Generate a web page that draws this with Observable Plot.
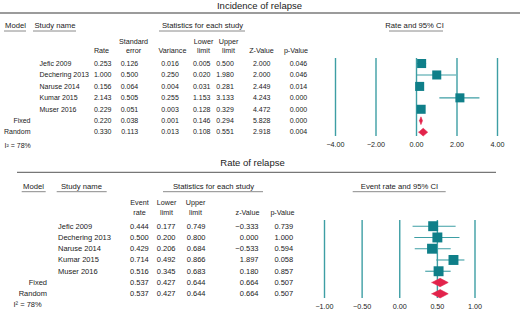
<!DOCTYPE html>
<html><head><meta charset="utf-8">
<script src="https://cdn.jsdelivr.net/npm/d3@7"></script>
<script src="https://cdn.jsdelivr.net/npm/@observablehq/plot@0.6"></script>
<style>
body{margin:0;background:#fff;}
#chart svg{display:block;}
</style></head><body><div id="chart"></div>
<script>
// ---------- data ----------
const studies = ["Jefic 2009", "Dechering 2013", "Naruse 2014", "Kumar 2015", "Muser 2016"];
const models = ["Fixed", "Random"];
const i2Text = "I\u00B2 = 78%";

// Incidence of relapse
const incRate     = [0.253, 1.000, 0.156, 2.143, 0.229, 0.220, 0.330];
const incSE       = [0.126, 0.500, 0.064, 0.505, 0.051, 0.038, 0.113];
const incVariance = [0.016, 0.250, 0.004, 0.255, 0.003, 0.001, 0.013];
const incLower    = [0.005, 0.020, 0.031, 1.153, 0.128, 0.146, 0.108];
const incUpper    = [0.500, 1.980, 0.281, 3.133, 0.329, 0.294, 0.551];
const incZ        = [2.000, 2.000, 2.449, 4.243, 4.472, 5.828, 2.918];
const incP        = [0.046, 0.046, 0.014, 0.000, 0.000, 0.000, 0.004];
const incTicks    = [-4, -2, 0, 2, 4];

// Rate of relapse
const relRate  = [0.444, 0.500, 0.429, 0.714, 0.516, 0.537, 0.537];
const relLower = [0.177, 0.200, 0.206, 0.492, 0.345, 0.427, 0.427];
const relUpper = [0.749, 0.800, 0.684, 0.866, 0.683, 0.644, 0.644];
const relZ     = [-0.333, 0.000, -0.533, 1.897, 0.180, 0.664, 0.664];
const relP     = [0.739, 1.000, 0.594, 0.058, 0.857, 0.507, 0.507];
const relTicks = [-1, -0.5, 0, 0.5, 1];

// ---------- styles ----------
const FONT = "'Liberation Sans', Arial, Helvetica, sans-serif";
const TEXT = "#222";
const SQUARE = "#0f7f89";
const LINE = "#3d9ea4";
const RED = "#e2234b";
const f3 = d3.format(".3f"), f2 = d3.format(".2f");

function panel(cfg) {
  const labels = [...studies, ...models];
  const rows = labels.map((name, i) => ({
    i, name, model: i >= studies.length,
    est: cfg.est[i], lo: cfg.lo[i], hi: cfg.hi[i],
    vals: cfg.cols.map(c => c.values[i])
  }));
  const studyRows = rows.filter(d => !d.model);
  const modelRows = rows.filter(d => d.model);
  const diamonds = modelRows.flatMap(d => [
    {name: d.name, x: d.lo, y: d.i},
    {name: d.name, x: d.est, y: d.i - cfg.dh},
    {name: d.name, x: d.hi, y: d.i},
    {name: d.name, x: d.est, y: d.i + cfg.dh},
    {name: d.name, x: d.lo, y: d.i}
  ]);
  const {ml, mt, mb, height} = cfg;
  const fb = height - mb;
  const fs = cfg.fs;
  const marks = [];
  const T = (opts) => ({fill: TEXT, lineAnchor: "middle", ...opts});
  // decorative rules (title rule and header underlines)
  marks.push(() => {
    const g = d3.create("svg:g");
    g.append("line").attr("x1", cfg.rule.x1).attr("x2", cfg.rule.x2)
      .attr("y1", cfg.rule.y).attr("y2", cfg.rule.y)
      .attr("stroke", cfg.rule.stroke).attr("stroke-width", cfg.rule.w);
    for (const h of cfg.groups) {
      g.append("line").attr("x1", h.u[0]).attr("x2", h.u[1])
        .attr("y1", cfg.underlineY).attr("y2", cfg.underlineY)
        .attr("stroke", "#8a8a8a").attr("stroke-width", 1);
    }
    return g.node();
  });
  // title
  marks.push(Plot.text([cfg.title.text], T({text: d => d, frameAnchor: "top-left", textAnchor: "middle",
    dx: cfg.title.x - ml, dy: cfg.title.y - mt, fontSize: 9.5})));
  // group headers
  for (const h of cfg.groups) {
    marks.push(Plot.text([h.text], T({text: d => d, frameAnchor: "top-left", textAnchor: "middle",
      dx: h.cx - ml, dy: cfg.groupY - mt, fontSize: 7.7})));
  }
  // column headers
  cfg.cols.forEach(c => {
    const lines = c.header;
    lines.forEach((t, k) => {
      const y = lines.length === 2 ? cfg.colHeadY[k] : cfg.colHeadY[1];
      marks.push(Plot.text([t], T({text: d => d, frameAnchor: "top-left", textAnchor: "middle",
        dx: c.cx - ml, dy: y - mt, fontSize: 7.2})));
    });
  });
  // vertical reference lines
  marks.push(Plot.ruleX(cfg.ticks, {x: d => d, stroke: LINE, strokeWidth: 1.4}));
  // CI lines
  marks.push(Plot.ruleY(studyRows, {y: "i", x1: "lo", x2: "hi", stroke: LINE, strokeWidth: 1.1}));
  // squares
  marks.push(Plot.dot(studyRows, {x: "est", y: "i", symbol: "square", r: cfg.r, fill: SQUARE, stroke: null}));
  // diamonds
  marks.push(Plot.line(diamonds, {x: "x", y: "y", z: "name", fill: RED, stroke: RED, strokeWidth: 0.6, curve: "linear"}));
  // study names
  marks.push(Plot.text(studyRows, T({y: "i", text: "name", frameAnchor: "left",
    dx: cfg.nameX - ml, textAnchor: "start", fontSize: fs})));
  // model names
  marks.push(Plot.text(modelRows, T({y: "i", text: "name", frameAnchor: "left",
    dx: cfg.modelRight - ml, textAnchor: "end", fontSize: fs})));
  // numeric columns
  cfg.cols.forEach((c, k) => {
    marks.push(Plot.text(rows, T({y: "i", text: d => f3(d.vals[k]), frameAnchor: "left",
      dx: c.right - ml, textAnchor: "end", fontSize: fs})));
  });
  // I^2
  marks.push(Plot.text([i2Text], T({text: d => d, frameAnchor: "bottom-left",
    dx: cfg.i2.x - ml, dy: cfg.i2.y - fb, textAnchor: "start", fontSize: fs})));
  // tick labels
  marks.push(Plot.text(cfg.ticks, T({x: d => d, text: d => f2(d), frameAnchor: "bottom", textAnchor: "middle",
    dy: cfg.tickY - fb, fontSize: 7.2})));

  return Plot.plot({
    width: 520, height, marginLeft: ml, marginRight: cfg.mr, marginTop: mt, marginBottom: mb,
    x: {domain: cfg.xDomain, axis: null},
    y: {domain: cfg.yDomain, reverse: true, axis: null},
    style: {fontFamily: FONT, background: "#fff", overflow: "visible"},
    marks
  });
}

const topPanel = panel({
  height: 155, ml: 335, mr: 23, mt: 58, mb: 19, fs: 7.0,
  xDomain: [-4, 4], yDomain: [-0.44, 6.38], ticks: incTicks,
  est: incRate, lo: incLower, hi: incUpper, dh: 0.34, r: 5.1,
  title: {text: "Incidence of relapse", x: 259, y: 5},
  rule: {x1: 0, x2: 520, y: 13, stroke: "#7a7a7a", w: 1.6},
  groupY: 24.7, underlineY: 31,
  groups: [
    {text: "Model", cx: 15, u: [4, 26]},
    {text: "Study name", cx: 54.5, u: [33, 76]},
    {text: "Statistics for each study", cx: 202, u: [159, 245]},
    {text: "Rate and 95% CI", cx: 414, u: [389, 443]}
  ],
  colHeadY: [41.5, 50.5],
  cols: [
    {header: ["Rate"], cx: 101, right: 111, values: incRate},
    {header: ["Standard", "error"], cx: 133, right: 137.7, values: incSE},
    {header: ["Variance"], cx: 172, right: 178.3, values: incVariance},
    {header: ["Lower", "limit"], cx: 203, right: 210, values: incLower},
    {header: ["Upper", "limit"], cx: 228, right: 233.3, values: incUpper},
    {header: ["Z-Value"], cx: 261, right: 270, values: incZ},
    {header: ["p-Value"], cx: 295.5, right: 306.7, values: incP}
  ],
  nameX: 39, modelRight: 30, i2: {x: 4, y: 145}, tickY: 144
});

const bottomPanel = panel({
  height: 155, ml: 324, mr: 45.5, mt: 65, mb: 12, fs: 7.5,
  xDomain: [-1, 1], yDomain: [-0.506, 6.42], ticks: relTicks,
  est: relRate, lo: relLower, hi: relUpper, dh: 0.37, r: 5.6,
  title: {text: "Rate of relapse", x: 252, y: 7},
  rule: {x1: 17, x2: 496, y: 17.3, stroke: "#555", w: 1},
  groupY: 30.7, underlineY: 36.7,
  groups: [
    {text: "Model", cx: 33, u: [21.7, 45.7]},
    {text: "Study name", cx: 81, u: [56.7, 106.7]},
    {text: "Statistics for each study", cx: 213, u: [163, 263]},
    {text: "Event rate and 95% CI", cx: 399, u: [352.7, 445.7]}
  ],
  colHeadY: [46.7, 57.3],
  cols: [
    {header: ["Event", "rate"], cx: 139, right: 148.3, values: relRate},
    {header: ["Lower", "limit"], cx: 166, right: 175, values: relLower},
    {header: ["Upper", "limit"], cx: 195, right: 205, values: relUpper},
    {header: ["z-Value"], cx: 247, right: 258, values: relZ},
    {header: ["p-Value"], cx: 282, right: 292.7, values: relP}
  ],
  nameX: 57.5, modelRight: 46.5, i2: {x: 13, y: 149.3}, tickY: 150.8
});

document.getElementById("chart").append(topPanel, bottomPanel);
</script>
</body></html>
